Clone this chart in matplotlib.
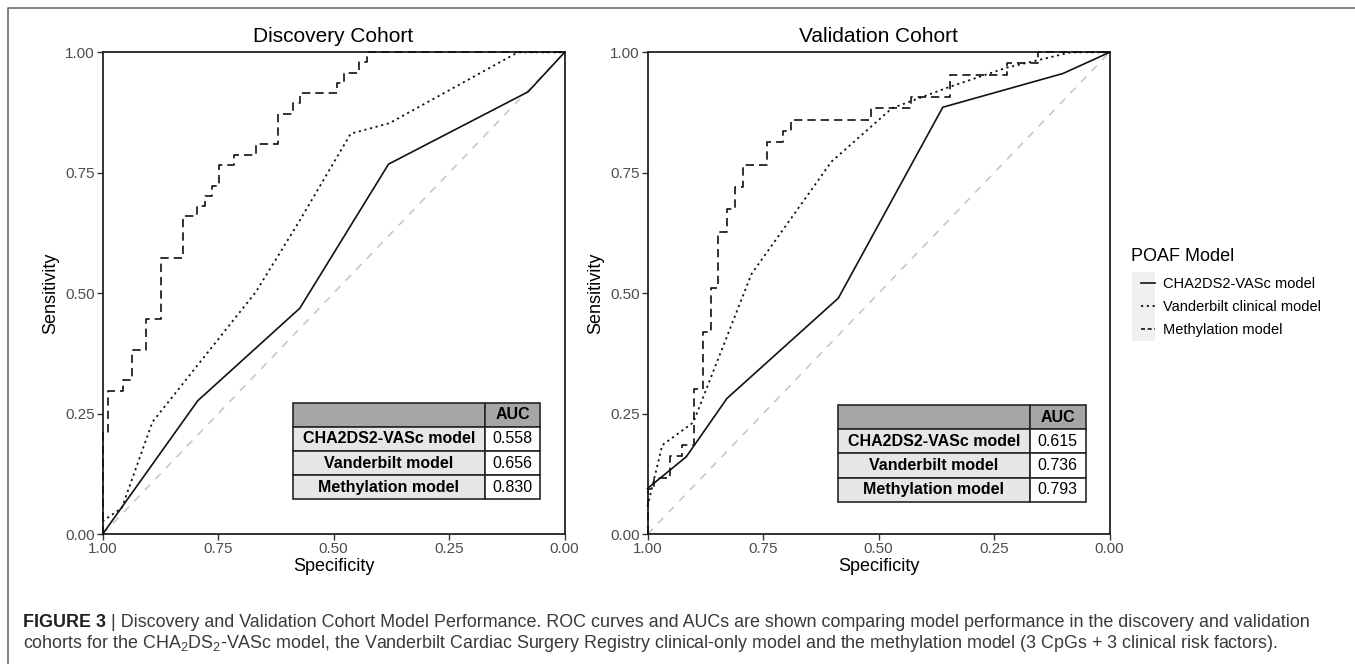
import matplotlib
matplotlib.use('Agg')
import matplotlib.pyplot as plt
from matplotlib.patches import Rectangle
from matplotlib.lines import Line2D
from matplotlib.legend_handler import HandlerLine2D

plt.rcParams['font.family'] = ['Liberation Sans', 'DejaVu Sans']
plt.rcParams['mathtext.fontset'] = 'custom'
plt.rcParams['mathtext.rm'] = 'Liberation Sans'
plt.rcParams['mathtext.it'] = 'Liberation Sans:italic'
plt.rcParams['mathtext.bf'] = 'Liberation Sans:bold'

W, H = 1355, 664

# ---------------- data ----------------
panel_titles = ['Discovery Cohort', 'Validation Cohort']
legend_title = 'POAF Model'
model_names = ['CHA2DS2-VASc model', 'Vanderbilt clinical model', 'Methylation model']
table_rows = ['CHA2DS2-VASc model', 'Vanderbilt model', 'Methylation model']
table_header = ['', 'AUC']
auc_discovery = ['0.558', '0.656', '0.830']
auc_validation = ['0.615', '0.736', '0.793']
tick_values = [0.0, 0.25, 0.5, 0.75, 1.0]
tick_labels = ['0.00', '0.25', '0.50', '0.75', '1.00']
chance_spec = [1.0, 0.0]
chance_sens = [0.0, 1.0]

# Discovery cohort
disc_cha_spec = [1.0, 0.794, 0.573, 0.381, 0.079, 0.0]
disc_cha_sens = [0.0, 0.277, 0.469, 0.768, 0.918, 1.0]
disc_vand_spec = [1.0, 0.958, 0.892, 0.668, 0.575, 0.463, 0.379, 0.101, 0.0]
disc_vand_sens = [0.027, 0.055, 0.233, 0.503, 0.648, 0.831, 0.853, 1.0, 1.0]
disc_meth_spec = [1.0, 0.988, 0.955, 0.937, 0.906, 0.873, 0.826, 0.795, 0.779, 0.763, 0.748,
                  0.716, 0.668, 0.620, 0.588, 0.572, 0.493, 0.477, 0.445, 0.428, 0.0]
disc_meth_sens = [0.0, 0.213, 0.298, 0.320, 0.383, 0.446, 0.574, 0.660, 0.681, 0.702, 0.723,
                  0.766, 0.787, 0.809, 0.872, 0.894, 0.915, 0.936, 0.957, 0.979, 1.0]

# Validation cohort
val_cha_spec = [1.0, 0.916, 0.828, 0.587, 0.361, 0.101, 0.0]
val_cha_sens = [0.095, 0.161, 0.282, 0.490, 0.886, 0.956, 1.0]
val_vand_spec = [1.0, 0.968, 0.901, 0.775, 0.602, 0.471, 0.347, 0.223, 0.084, 0.0]
val_vand_sens = [0.058, 0.185, 0.232, 0.540, 0.773, 0.884, 0.928, 0.968, 1.0, 1.0]
val_meth_spec = [1.0, 0.987, 0.951, 0.925, 0.900, 0.880, 0.863, 0.847, 0.829, 0.811, 0.794,
                 0.742, 0.706, 0.689, 0.517, 0.430, 0.345, 0.223, 0.154, 0.0]
val_meth_sens = [0.0, 0.093, 0.116, 0.163, 0.186, 0.302, 0.419, 0.512, 0.628, 0.674, 0.721,
                 0.767, 0.814, 0.837, 0.860, 0.884, 0.907, 0.953, 0.977, 1.0]

caption_bold = 'FIGURE 3'
caption_line1 = (' | Discovery and Validation Cohort Model Performance. ROC curves and AUCs are shown '
                 'comparing model performance in the discovery and validation')
caption_line2 = ('cohorts for the CHA$_2$DS$_2$-VASc model, the Vanderbilt Cardiac Surgery Registry '
                 'clinical-only model and the methylation model (3 CpGs + 3 clinical risk factors).')

# ---------------- figure ----------------
fig = plt.figure(figsize=(W / 100, H / 100), dpi=100)
fig.patch.set_facecolor('white')


def fx(px):
    return px / W


def fy(py):
    return 1 - py / H


line_col = '#111111'
styles = [dict(ls='-'), dict(ls=(0, (1.2, 2.0))), dict(ls=(0, (5, 3)))]


def draw_panel(left_px, title, cha, vand, meth, aucs, tbl_bbox):
    ax = fig.add_axes([fx(left_px), fy(534.3), 462.1 / W, 482 / H])
    ax.plot(chance_spec, chance_sens, color='#C4C4C4', lw=1.1, ls=(0, (5, 5)), zorder=1)
    l1, = ax.plot(cha[0], cha[1], color=line_col, lw=1.2, zorder=3, clip_on=False, **styles[0])
    l2, = ax.plot(vand[0], vand[1], color=line_col, lw=1.3, zorder=3, clip_on=False, **styles[1])
    l3, = ax.plot(meth[0], meth[1], color=line_col, lw=1.2, zorder=3, drawstyle='steps-pre',
                  clip_on=False, **styles[2])
    ax.set_xlim(1, 0)
    ax.set_ylim(0, 1)
    ax.set_xticks(tick_values)
    ax.set_xticklabels(tick_labels)
    ax.set_yticks(tick_values)
    ax.set_yticklabels(tick_labels)
    ax.tick_params(axis='both', length=4, width=1.0, color='#333333', pad=1.5,
                   labelsize=11, labelcolor='#4D4D4D')
    for s in ax.spines.values():
        s.set_color('#222222')
        s.set_linewidth(1.3)
    ax.set_title(title, fontsize=15, pad=7.5, color='black')
    ax.set_xlabel('Specificity', fontsize=13, va='center')
    ax.xaxis.set_label_coords(0.5, -0.0672)
    ax.set_ylabel('Sensitivity', fontsize=13, va='center')
    ax.yaxis.set_label_coords(-0.113, 0.5)

    tbl = ax.table(cellText=[[r, a] for r, a in zip(table_rows, aucs)], colLabels=table_header,
                   cellLoc='center', bbox=tbl_bbox, colWidths=[0.775, 0.225])
    tbl.auto_set_font_size(False)
    tbl.set_fontsize(11.5)
    tbl.set_zorder(5)
    for (r, c), cell in tbl.get_celld().items():
        cell.set_edgecolor('#262626')
        cell.set_linewidth(1.2)
        if r == 0:
            cell.set_facecolor('#A6A6A6')
            cell.get_text().set_fontweight('bold')
        elif c == 0:
            cell.set_facecolor('#E6E6E6')
            cell.get_text().set_fontweight('bold')
        else:
            cell.set_facecolor('white')
    return ax, [l1, l2, l3]


ax1, handles = draw_panel(102.5, panel_titles[0],
                          (disc_cha_spec, disc_cha_sens), (disc_vand_spec, disc_vand_sens),
                          (disc_meth_spec, disc_meth_sens), auc_discovery,
                          [0.412, 0.0726, 0.5354, 0.2004])
ax2, _ = draw_panel(647.5, panel_titles[1],
                    (val_cha_spec, val_cha_sens), (val_vand_spec, val_vand_sens),
                    (val_meth_spec, val_meth_sens), auc_validation,
                    [0.412, 0.0676, 0.5363, 0.2006])


def short_dashes(legline, orig):
    legline.update_from(orig)
    legline.set_linestyle((0, (2.4, 1.6)))


# legend
fig.patches.append(Rectangle((fx(1132), fy(341)), 23 / W, 69 / H, transform=fig.transFigure,
                             facecolor='#F0F0F0', edgecolor='none', zorder=0))
leg = fig.legend(handles, model_names, title=legend_title, loc='upper left',
                 bbox_to_anchor=(fx(1131), fy(248)), frameon=False, fontsize=10.5,
                 title_fontsize=13, alignment='left', handlelength=0.9, handletextpad=0.55,
                 labelspacing=0.6, borderpad=0, borderaxespad=0,
                 handler_map={handles[2]: HandlerLine2D(update_func=short_dashes)})
# indent the key column under the title and open the gap below the title (ggplot look)
leg._legend_handle_box.pad = 7.5
leg._legend_box.sep = 1.3

# outer frame (top and left)
fig.add_artist(Line2D([fx(8), fx(8), fx(W)], [0, fy(8), fy(8)], transform=fig.transFigure,
                      color='#6E6E6E', lw=1.2))

# caption
fs = 10.5
t_bold = fig.text(fx(23), fy(627), caption_bold, fontsize=fs, fontweight='bold', color='#231F20',
                  va='baseline', ha='left')
t_rest = fig.text(0, 0, caption_line1, fontsize=fs, color='#3A3A3A', va='baseline', ha='left')
t_line2 = fig.text(fx(23), fy(648), caption_line2, fontsize=fs, color='#3A3A3A', va='baseline',
                   ha='left')

fig.canvas.draw()
r = fig.canvas.get_renderer()
wb = t_bold.get_window_extent(r).width
wr = t_rest.get_window_extent(r).width
scale = (1320 - 23) / (wb + wr)
fs2 = fs * scale
t_bold.set_fontsize(fs2)
t_rest.set_fontsize(fs2)
t_line2.set_fontsize(fs2)
fig.canvas.draw()
wb = t_bold.get_window_extent(r).width
t_rest.set_position((fx(23 + wb), fy(627)))

fig.savefig('out.png', dpi=100, facecolor='white')
